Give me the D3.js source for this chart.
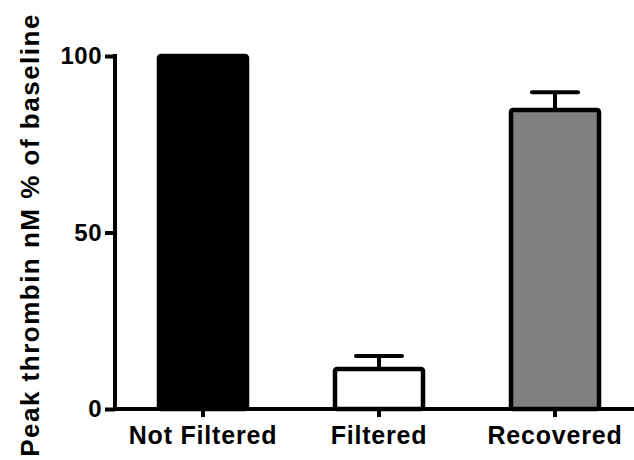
<!DOCTYPE html>
<html>
<head>
<meta charset="utf-8">
<script src="https://cdn.jsdelivr.net/npm/d3@7"></script>
<style>
  html, body { margin: 0; padding: 0; background: #fff; }
  svg text { font-family: "Liberation Sans", Arial, sans-serif; font-weight: bold; fill: #000; }
</style>
</head>
<body>
<svg id="chart" width="634" height="460"></svg>
<script>
// Peak thrombin generation relative to baseline (mean ± SEM)
const categories = ["Not Filtered", "Filtered", "Recovered"];
const means = [100, 11.3, 84.7];
const sem = [0, 3.7, 5.0];
const fills = ["#000000", "#ffffff", "#808080"];
const yTicks = [0, 50, 100];
const yLabel = "Peak thrombin nM % of baseline";

const svg = d3.select("#chart");

const x = d3.scaleBand()
  .domain(categories)
  .range([115, 643])
  .paddingInner(0.5)
  .paddingOuter(0.25);

const y = d3.scaleLinear()
  .domain([0, 100])
  .range([409, 56]);

// bars
svg.append("g").selectAll("rect")
  .data(categories)
  .join("rect")
  .attr("x", d => x(d))
  .attr("y", (d, i) => y(means[i]))
  .attr("width", x.bandwidth())
  .attr("height", (d, i) => y(0) - y(means[i]))
  .attr("rx", 2)
  .attr("fill", (d, i) => fills[i])
  .attr("stroke", "#000")
  .attr("stroke-width", 4.5);

// error bars (upper only)
const capHalf = 23;
const eb = svg.append("g").attr("stroke", "#000").attr("stroke-width", 4);
categories.forEach((c, i) => {
  if (sem[i] <= 0) return;
  const cx = x(c) + x.bandwidth() / 2;
  eb.append("line")
    .attr("x1", cx).attr("x2", cx)
    .attr("y1", y(means[i])).attr("y2", y(means[i] + sem[i]));
  eb.append("line")
    .attr("x1", cx - capHalf).attr("x2", cx + capHalf)
    .attr("y1", y(means[i] + sem[i])).attr("y2", y(means[i] + sem[i]))
    .attr("stroke-linecap", "round");
});

// y axis
const yAxis = svg.append("g")
  .attr("transform", "translate(115,0)")
  .call(d3.axisLeft(y).tickValues(yTicks).tickSize(10).tickPadding(3).tickFormat(d3.format("d")));
yAxis.select(".domain").attr("stroke-width", 4).attr("d", `M0,${y(100) - 2}V${y(0)}`);
yAxis.selectAll(".tick line").attr("stroke-width", 4);
yAxis.selectAll(".tick text").style("font-size", "24px").style("letter-spacing", "0.5px");

// x axis
const xAxis = svg.append("g")
  .attr("transform", `translate(0,${y(0)})`)
  .call(d3.axisBottom(x).tickSize(8).tickPadding(9).tickSizeOuter(0));
xAxis.select(".domain").attr("stroke-width", 4).attr("d", "M113,0H634");
xAxis.selectAll(".tick line").attr("stroke-width", 4);
xAxis.selectAll(".tick text").style("font-size", "25px").style("letter-spacing", "0.8px");

// y axis title
svg.append("text")
  .attr("transform", "translate(39,235) rotate(-90)")
  .attr("text-anchor", "middle")
  .style("font-size", "26px")
  .style("letter-spacing", "1.5px")
  .text(yLabel);
</script>
</body>
</html>
